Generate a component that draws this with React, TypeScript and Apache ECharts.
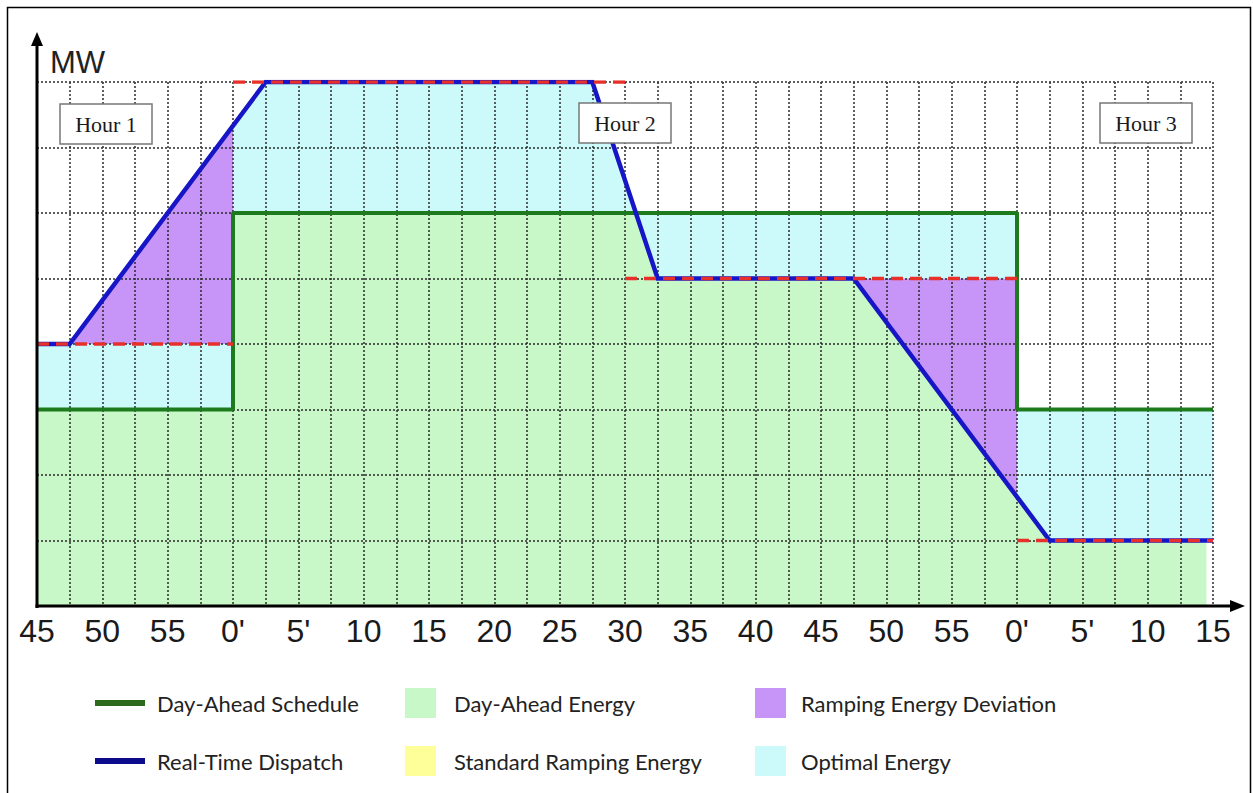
import React, { useEffect, useRef } from 'react';
import * as echarts from 'echarts';

// ---- data (minutes from :45 of hour 0, MW levels) ----
const xTickLabels = ['45', '50', '55', "0'", "5'", '10', '15', '20', '25', '30', '35', '40', '45', '50', '55', "0'", "5'", '10', '15'];
const dayAheadSchedule = [[0, 3], [15, 3], [15, 6], [75, 6], [75, 3], [90, 3]];
const realTimeDispatch = [[0, 4], [2.5, 4], [17.5, 8], [42.5, 8], [47.5, 5], [62.5, 5], [77.5, 1], [90, 1]];
// [start, end, MW]
const dispatchTargets = [[0, 15, 4], [15, 45, 8], [45, 75, 5], [75, 90, 1]];
const dayAheadEnergy = [
  [[0, 0], [0, 3], [15, 3], [15, 6], [45.83, 6], [47.5, 5], [62.5, 5], [77.5, 1], [89.5, 1], [89.5, 0]],
];
const optimalEnergy = [
  [[0, 3], [15, 3], [15, 4], [0, 4]],
  [[15, 6], [15, 7.33], [17.5, 8], [42.5, 8], [45.83, 6]],
  [[45.83, 6], [75, 6], [75, 5], [47.5, 5]],
  [[75, 3], [90, 3], [90, 1], [77.5, 1], [75, 1.67]],
];
const rampingDeviation = [
  [[2.5, 4], [15, 4], [15, 7.33]],
  [[62.5, 5], [75, 5], [75, 1.67]],
];
const standardRamping: number[][][] = [];
const hourLabels = ['Hour 1', 'Hour 2', 'Hour 3'];

const C = {
  green: '#c8f7c8',
  cyan: '#ccfafa',
  purple: '#c795f7',
  yellow: '#ffff99',
  daLine: '#1d7a1d',
  rtLine: '#1616c6',
  red: '#e8302a',
  daLegend: '#2d6a1e',
  rtLegend: '#0b0b8c',
};

const polySeries = (name: string, polys: number[][][], color: string) => ({
  type: 'custom',
  name,
  z: 1,
  silent: true,
  itemStyle: { color },
  data: polys.map((p) => p[0]),
  renderItem: (params: any, api: any) => {
    const poly = polys[params.dataIndex];
    return {
      type: 'polygon',
      shape: { points: poly.map((pt) => api.coord(pt)) },
      style: { fill: color },
    };
  },
});

const gridStyle = { color: '#2a2a2a', type: [2, 2], width: 1.5 };

const hourBoxPos = [[60, 104], [579, 103], [1100, 103]];

const legendText = (pad: number) => ({
  fontFamily: 'Lato', fontSize: 22, color: '#222', lineHeight: 30, padding: [0, 0, 0, pad],
});

export default function App() {
  const ref = useRef<HTMLDivElement>(null);
  useEffect(() => {
    if (!ref.current) return;
    const chart = echarts.init(ref.current, undefined, { renderer: 'svg' });
    const targetData: any[] = [];
    dispatchTargets.forEach(([a, b, v]) => {
      targetData.push([a, v], [b, v], [b, null]);
    });
    const option: any = {
      animation: false,
      grid: { left: 37, right: 40, top: 82, bottom: 187, containLabel: false },
      xAxis: {
        type: 'value', min: 0, max: 90, interval: 2.5, z: 3,
        axisLine: { show: false }, axisTick: { show: false },
        axisLabel: {
          formatter: (v: number) => (Math.abs(v % 5) < 1e-6 ? xTickLabels[Math.round(v / 5)] : ''),
          fontSize: 32, fontFamily: 'Liberation Sans', color: '#1a1a1a', margin: 9,
          showMinLabel: true, showMaxLabel: true,
        },
        splitLine: { show: true, lineStyle: gridStyle },
      },
      yAxis: {
        type: 'value', min: 0, max: 8, interval: 1, z: 3,
        axisLine: { show: false }, axisTick: { show: false }, axisLabel: { show: false },
        splitLine: { show: true, lineStyle: gridStyle },
      },
      legend: [
        {
          left: 95, top: 688, padding: 0, orient: 'vertical', itemWidth: 50, itemHeight: 6, itemGap: 28, icon: 'rect', selectedMode: false,
          textStyle: legendText(7),
          data: [
            { name: 'Day-Ahead Schedule', itemStyle: { color: C.daLegend } },
            { name: 'Real-Time Dispatch', itemStyle: { color: C.rtLegend } },
          ],
        },
        {
          left: 405, top: 688, padding: 0, orient: 'vertical', itemWidth: 31, itemHeight: 30, itemGap: 28, icon: 'rect', selectedMode: false,
          textStyle: legendText(13),
          data: [
            { name: 'Day-Ahead Energy', itemStyle: { color: C.green } },
            { name: 'Standard Ramping Energy', itemStyle: { color: C.yellow } },
          ],
        },
        {
          left: 755, top: 688, padding: 0, orient: 'vertical', itemWidth: 31, itemHeight: 30, itemGap: 28, icon: 'rect', selectedMode: false,
          textStyle: legendText(10),
          data: [
            { name: 'Ramping Energy Deviation', itemStyle: { color: C.purple } },
            { name: 'Optimal Energy', itemStyle: { color: C.cyan } },
          ],
        },
      ],
      series: [
        polySeries('Day-Ahead Energy', dayAheadEnergy, C.green),
        polySeries('Optimal Energy', optimalEnergy, C.cyan),
        polySeries('Ramping Energy Deviation', rampingDeviation, C.purple),
        polySeries('Standard Ramping Energy', standardRamping, C.yellow),
        {
          type: 'line', name: 'Day-Ahead Schedule', data: dayAheadSchedule, symbol: 'none', z: 5, silent: true,
          lineStyle: { color: C.daLine, width: 4 }, itemStyle: { color: C.daLegend },
        },
        {
          type: 'line', name: 'Real-Time Dispatch', data: realTimeDispatch, symbol: 'none', z: 6, silent: true,
          lineStyle: { color: C.rtLine, width: 4.5, join: 'miter' }, itemStyle: { color: C.rtLegend },
        },
        {
          type: 'line', name: 'Dispatch Target', data: targetData, symbol: 'none', z: 7, silent: true, connectNulls: false,
          lineStyle: { color: C.red, width: 3.5, type: [12, 7] }, itemStyle: { color: C.red },
        },
      ],
      graphic: [
        { type: 'rect', z: 20, silent: true, shape: { x: 7.5, y: 7.5, width: 1243, height: 800 }, style: { fill: 'none', stroke: '#000', lineWidth: 1.5 } },
        { type: 'line', z: 20, silent: true, shape: { x1: 37, y1: 608, x2: 37, y2: 42 }, style: { stroke: '#000', lineWidth: 3 } },
        { type: 'polygon', z: 20, silent: true, shape: { points: [[31, 46], [37, 32], [43, 46]] }, style: { fill: '#000' } },
        { type: 'line', z: 20, silent: true, shape: { x1: 35.5, y1: 606, x2: 1234, y2: 606 }, style: { stroke: '#000', lineWidth: 3 } },
        { type: 'polygon', z: 20, silent: true, shape: { points: [[1230, 600], [1245, 606], [1230, 612]] }, style: { fill: '#000' } },
        { type: 'text', z: 20, silent: true, style: { text: 'MW', x: 50, y: 62, verticalAlign: 'middle', font: '31px "Liberation Sans"', fill: '#222' } },
        ...hourLabels.flatMap((h, i) => [
          {
            type: 'rect', z: 30, silent: true,
            shape: { x: hourBoxPos[i][0], y: hourBoxPos[i][1], width: 92, height: 40 },
            style: { fill: '#fff', stroke: '#777', lineWidth: 1.5 },
          },
          {
            type: 'text', z: 31, silent: true,
            style: {
              text: h, x: hourBoxPos[i][0] + 46, y: hourBoxPos[i][1] + 20, align: 'center', verticalAlign: 'middle',
              font: '22px "Liberation Serif"', fill: '#1a1a1a',
            },
          },
        ]),
      ],
    };
    chart.setOption(option);
    return () => chart.dispose();
  }, []);
  return <div ref={ref} style={{ position: 'absolute', left: 0, top: 0, width: 1253, height: 793 }} />;
}
